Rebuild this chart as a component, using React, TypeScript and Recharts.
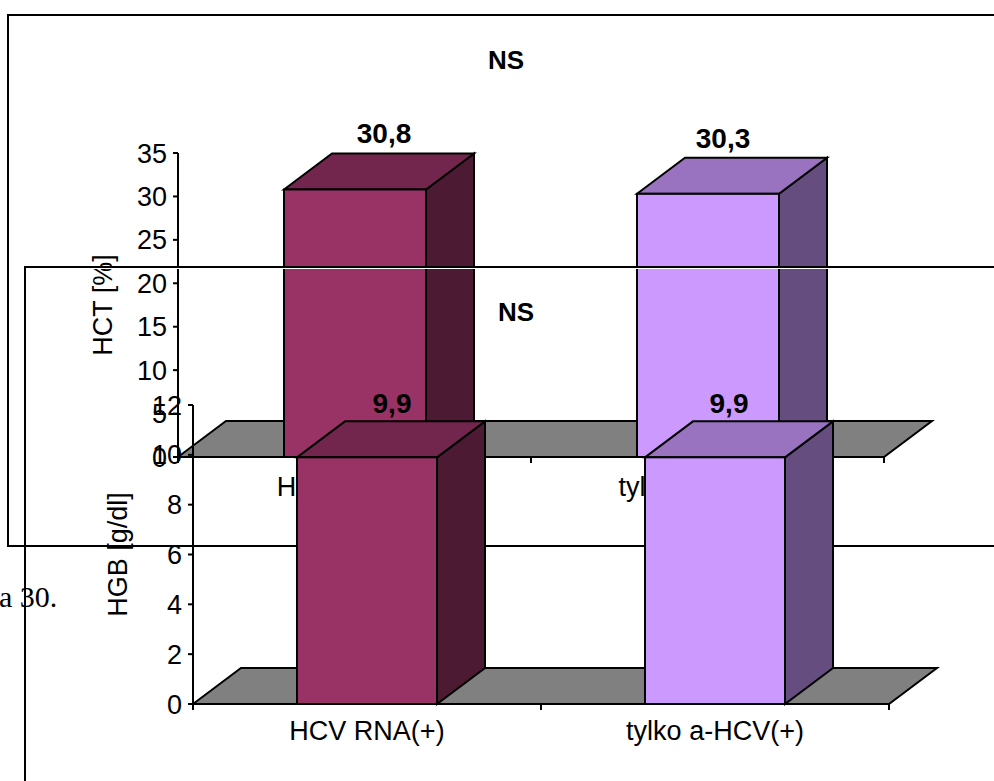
import React from 'react';
import { BarChart, Bar, XAxis, YAxis, LabelList, Label } from 'recharts';

// Series
const categories = ['HCV RNA(+)', 'tylko a-HCV(+)'];
const hctValues = [30.8, 30.3];
const hgbValues = [9.9, 9.9];
const hctTicks = [0, 5, 10, 15, 20, 25, 30, 35];
const hgbTicks = [0, 2, 4, 6, 8, 10, 12];

// Front, top and side face colours per category
const faces = [
  { front: '#993366', top: '#73264D', side: '#4D1A33' },
  { front: '#CC99FF', top: '#9973BF', side: '#664D80' },
];

const CHART_W = 994;
const CHART_H = 781;
const DX = 48;
const DY = 36;
const FONT = '"Liberation Sans", Arial, sans-serif';
const AXIS_SIZE = 27;
const LINE = 2;

type PanelProps = {
  name: string;
  values: number[];
  ticks: number[];
  max: number;
  left: number;
  right: number;
  top: number;
  bottom: number;
  barSize: number;
  title: string;
  titleX: number;
  titleY: number;
  axisTitle: string;
  axisTitleOffset: number;
  labelShift: number[];
  labelGap: number;
  tickBaseline: number;
};

function Panel(p: PanelProps) {
  const rows = categories.map((category, i) => ({ category, value: p.values[i] }));
  const band = (p.right - p.left) / categories.length;

  // A 3D column; the first one also lays down the grey floor beneath all columns
  const Box = (b: any) => {
    const { x, y, width, height, index } = b;
    const c = faces[index];
    const stroke = { stroke: '#000', strokeWidth: LINE, strokeLinejoin: 'miter' as const };
    const baseY = y + height;
    return (
      <g>
        {index === 0 && (
          <path
            d={`M${p.left},${baseY} l${DX},${-DY} H${p.right + DX} l${-DX},${DY} z`}
            fill="#808080"
            {...stroke}
          />
        )}
        <path d={`M${x + width},${y} l${DX},${-DY} v${height} l${-DX},${DY} z`} fill={c.side} {...stroke} />
        <path d={`M${x},${y} l${DX},${-DY} h${width} l${-DX},${DY} z`} fill={c.top} {...stroke} />
        <rect x={x} y={y} width={width} height={height} fill={c.front} {...stroke} />
      </g>
    );
  };

  const CategoryTick = (t: any) => {
    const { x, y, payload, index } = t;
    return (
      <g>
        <line x1={x - band / 2} x2={x - band / 2} y1={y} y2={y + 6} stroke="#000" strokeWidth={LINE} />
        {index === categories.length - 1 && (
          <line x1={x + band / 2} x2={x + band / 2} y1={y} y2={y + 6} stroke="#000" strokeWidth={LINE} />
        )}
        <text x={x} y={y + p.tickBaseline} textAnchor="middle" fontFamily={FONT} fontSize={AXIS_SIZE} fill="#000">
          {payload.value}
        </text>
      </g>
    );
  };

  const ValueLabel = (l: any) => {
    const { x, y, width, index, value } = l;
    return (
      <text
        x={x + width / 2 + p.labelShift[index]}
        y={y - DY - p.labelGap}
        textAnchor="middle"
        fontFamily={FONT}
        fontWeight="bold"
        fontSize={28}
        fill="#000"
      >
        {String(value).replace('.', ',')}
      </text>
    );
  };

  return (
    <BarChart
      width={CHART_W}
      height={CHART_H}
      data={rows}
      margin={{ left: 0, right: CHART_W - p.right, top: p.top, bottom: 0 }}
      barSize={p.barSize}
      style={{ position: 'absolute', left: 0, top: 0 }}
    >
      <XAxis
        dataKey="category"
        height={CHART_H - p.bottom}
        interval={0}
        tickLine={false}
        tickSize={0}
        tickMargin={0}
        stroke="#000"
        strokeWidth={LINE}
        tick={CategoryTick}
      />
      <YAxis
        width={p.left}
        domain={[0, p.max]}
        ticks={p.ticks}
        interval={0}
        tickSize={5}
        tickMargin={6}
        stroke="#000"
        strokeWidth={LINE}
        tick={{ fill: '#000', fontFamily: FONT, fontSize: AXIS_SIZE }}
      >
        <Label
          value={p.axisTitle}
          angle={-90}
          position="insideLeft"
          offset={p.axisTitleOffset}
          style={{ fill: '#000', fontFamily: FONT, fontSize: AXIS_SIZE, textAnchor: 'middle' }}
        />
      </YAxis>
      <Bar dataKey="value" name={p.name} shape={Box} isAnimationActive={false}>
        <LabelList dataKey="value" content={ValueLabel} />
      </Bar>
      <text x={p.titleX} y={p.titleY} textAnchor="middle" fontFamily={FONT} fontWeight="bold" fontSize={26} fill="#000">
        {p.title}
      </text>
    </BarChart>
  );
}

const rule = (left: number, top: number, width: number, height: number, bg = '#000'): React.CSSProperties => ({
  position: 'absolute',
  left,
  top,
  width,
  height,
  background: bg,
});

export default function App() {
  return (
    <div style={{ position: 'absolute', left: 0, top: 0, width: CHART_W, height: CHART_H, overflow: 'hidden', background: '#fff' }}>
      <div
        style={{
          position: 'absolute',
          left: -1,
          top: 580,
          fontFamily: '"Liberation Serif", "Times New Roman", serif',
          fontSize: 30,
          lineHeight: '34px',
          whiteSpace: 'pre',
        }}
      >
        a 30.
      </div>

      {/* HCT panel frame and chart */}
      <div style={rule(7, 14, 987, 2)} />
      <div style={rule(7, 14, 2, 532)} />
      <div style={rule(7, 545, 987, 2)} />
      <Panel
        name="HCT"
        values={hctValues}
        ticks={hctTicks}
        max={35}
        left={178}
        right={884}
        top={153}
        bottom={457}
        barSize={142}
        title="NS"
        titleX={506}
        titleY={69}
        axisTitle="HCT [%]"
        axisTitleOffset={102}
        labelShift={[29, 15]}
        labelGap={10}
        tickBaseline={39}
      />

      {/* HGB panel frame and chart */}
      <div style={rule(24, 266, 970, 2)} />
      <div style={rule(24, 268, 970, 1, '#fff')} />
      <div style={rule(24, 266, 2, 515)} />
      <Panel
        name="HGB"
        values={hgbValues}
        ticks={hgbTicks}
        max={12}
        left={193}
        right={889}
        top={405}
        bottom={704}
        barSize={140}
        title="NS"
        titleX={516}
        titleY={321}
        axisTitle="HGB [g/dl]"
        axisTitleOffset={117}
        labelShift={[25, 14]}
        labelGap={8}
        tickBaseline={36}
      />
    </div>
  );
}
